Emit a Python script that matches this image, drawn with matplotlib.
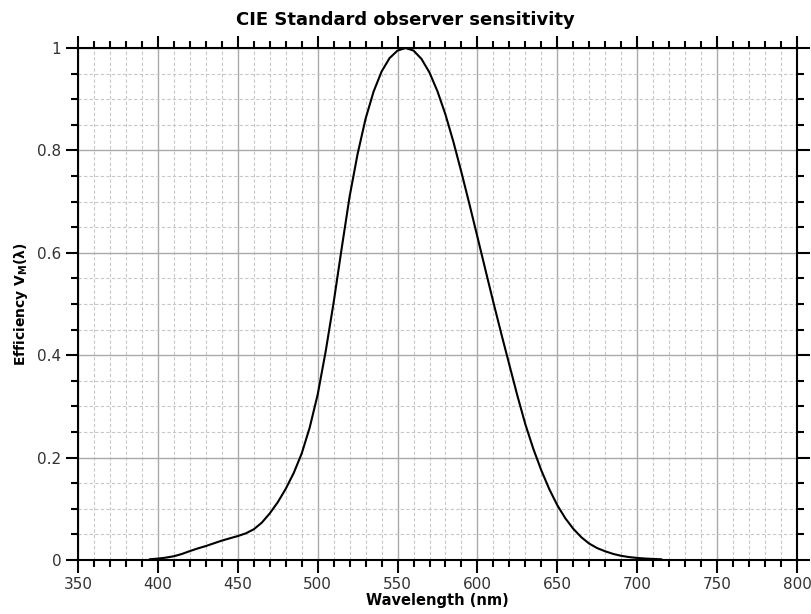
import numpy as np
import matplotlib
matplotlib.use("Agg")
import matplotlib.pyplot as plt
from matplotlib.ticker import MultipleLocator

# wavelength (nm) and photopic efficiency V_M(lambda)
wavelength = [395, 400, 405, 410, 415, 420, 425, 430, 435, 440, 445, 450,
              455, 460, 465, 470, 475, 480, 485, 490, 495, 500, 505, 510,
              515, 520, 525, 530, 535, 540, 545, 550, 555, 560, 565, 570,
              575, 580, 585, 590, 595, 600, 605, 610, 615, 620, 625, 630,
              635, 640, 645, 650, 655, 660, 665, 670, 675, 680, 685, 690,
              695, 700, 705, 710, 715]
efficiency = [0.0015, 0.0028, 0.0047, 0.0074, 0.0118, 0.0175, 0.0227, 0.0273,
              0.0326, 0.0379, 0.0424, 0.0468, 0.0521, 0.0600, 0.0729, 0.0910,
              0.1128, 0.1390, 0.1699, 0.2080, 0.2586, 0.3230, 0.4073, 0.5030,
              0.6082, 0.7100, 0.7932, 0.8620, 0.9149, 0.9540, 0.9803, 0.9950,
              1.0000, 0.9950, 0.9786, 0.9520, 0.9154, 0.8700, 0.8163, 0.7570,
              0.6949, 0.6310, 0.5668, 0.5030, 0.4412, 0.3810, 0.3210, 0.2650,
              0.2170, 0.1750, 0.1382, 0.1070, 0.0816, 0.0610, 0.0446, 0.0320,
              0.0232, 0.0170, 0.0119, 0.0082, 0.0057, 0.0041, 0.0029, 0.0021,
              0.0015]

fig = plt.figure(figsize=(8.11, 6.14), dpi=100)
ax = fig.add_axes([0.0962, 0.0879, 0.8865, 0.8339])

ax.plot(wavelength, efficiency, color='black', linewidth=1.5, zorder=3)

ax.set_xlim(350, 800)
ax.set_ylim(0, 1)
ax.xaxis.set_major_locator(MultipleLocator(50))
ax.xaxis.set_minor_locator(MultipleLocator(10))
ax.yaxis.set_major_locator(MultipleLocator(0.2))
ax.yaxis.set_minor_locator(MultipleLocator(0.05))
ax.yaxis.set_major_formatter(plt.FuncFormatter(lambda v, p: '%g' % round(v, 2)))

ax.grid(which='major', color='#aaaaaa', linestyle='-', linewidth=1.0)
ax.grid(which='minor', color='#c8c8c8', linestyle=(0, (3, 2)), linewidth=0.8)
ax.set_axisbelow(True)

for s in ax.spines.values():
    s.set_linewidth(1.5)
ax.tick_params(which='both', direction='out', top=True, right=True,
               width=1.5, labelsize=11, colors='black')
ax.tick_params(which='major', length=9, pad=3)
ax.tick_params(which='minor', length=5)
ax.tick_params(labelcolor='#333333')

# title is centred on the figure, not on the axes
fig.text(0.5, 0.967, 'CIE Standard observer sensitivity', fontsize=13,
         fontweight='bold', ha='center', va='center')
ax.set_xlabel('Wavelength (nm)', fontsize=10.5, fontweight='bold', labelpad=1)
ax.set_ylabel(r'Efficiency V$_\mathregular{M}$(λ)', fontsize=10, fontweight='bold', labelpad=5)

fig.savefig('out.png', dpi=100)
